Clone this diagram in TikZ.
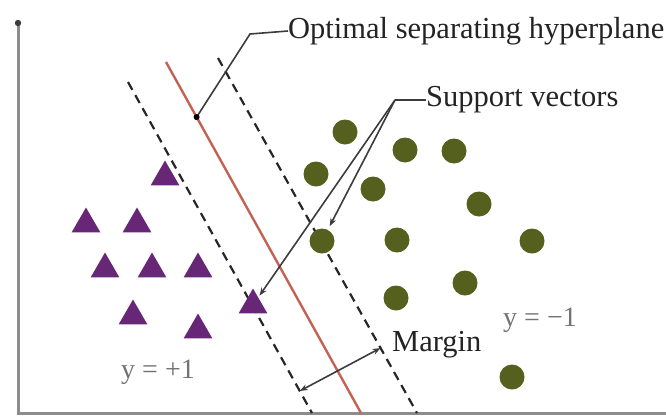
\documentclass[tikz,border=0pt]{standalone}
\usepackage{fontspec}
\setmainfont{Liberation Serif}
\usetikzlibrary{arrows.meta,shapes.geometric,calc}
\definecolor{tricol}{RGB}{104,38,118}
\definecolor{dotcol}{RGB}{86,96,30}
\definecolor{hypcol}{RGB}{196,98,84}
\definecolor{axcol}{RGB}{140,140,140}
\definecolor{leadcol}{RGB}{60,60,60}
\definecolor{labcol}{RGB}{35,35,35}
\definecolor{ycol}{RGB}{115,115,115}
\begin{document}
\begin{tikzpicture}[x=1pt,y=-1pt,
  tri/.style={regular polygon,regular polygon sides=3,fill=tricol,minimum size=33pt,inner sep=0pt},
  pt/.style={circle,fill=dotcol,minimum size=25pt,inner sep=0pt},
  margline/.style={draw=black!85,line width=2.2pt,dash pattern=on 9pt off 6pt},
  hypline/.style={draw=hypcol,line width=2.4pt},
  axline/.style={draw=axcol,line width=3pt},
  leader/.style={draw=leadcol,line width=1.6pt},
  lab/.style={text=labcol,font=\fontsize{30.5}{33}\selectfont,inner sep=0pt},
  ylab/.style={text=ycol,font=\fontsize{28}{32}\selectfont,inner sep=0pt},
  tip/.style={-{Stealth[length=8pt,width=6pt]}}
]
\useasboundingbox (0,0) rectangle (666,418);
% axes
\coordinate (ytop) at (18,23);
\coordinate (org) at (18,413);
\coordinate (xend) at (666,413);
\draw[axline] (ytop) -- (org) -- (xend);
\fill[leadcol] (ytop) circle (3.2pt);
% hyperplane and margin lines
\coordinate (L1) at (128,82);  \coordinate (L2) at (312,413);
\coordinate (H1) at (166,62);  \coordinate (H2) at (361,413);
\coordinate (R1) at (218,58);  \coordinate (R2) at (417,413);
\draw[margline] (L1) -- (L2);
\draw[hypline] (H1) -- (H2);
\draw[margline] (R1) -- (R2);
% triangles (y=+1)
\node[tri] (t1) at (165,177) {};
\node[tri] (t2) at (86,224) {};
\node[tri] (t3) at (137,224) {};
\node[tri] (t4) at (105,269) {};
\node[tri] (t5) at (152,269) {};
\node[tri] (t6) at (198,269) {};
\node[tri] (t7) at (133,316) {};
\node[tri] (t8) at (198,330) {};
\node[tri] (sv1) at (253,305) {};
% circles (y=-1)
\node[pt] (c1) at (345,132) {};
\node[pt] (c2) at (405,150) {};
\node[pt] (c3) at (454,151) {};
\node[pt] (c4) at (316,174) {};
\node[pt] (c5) at (373,189) {};
\node[pt] (c6) at (479,204) {};
\node[pt] (sv2) at (322,241) {};
\node[pt] (c8) at (397,240) {};
\node[pt] (c9) at (532,241) {};
\node[pt] (c10) at (465,283) {};
\node[pt] (c11) at (396,298) {};
\node[pt] (c12) at (512,377) {};
% labels
\node[lab,anchor=west] (opt) at (288,31) {Optimal separating hyperplane};
\node[lab,anchor=west] (sup) at (426,100) {Support vectors};
\node[lab,anchor=west] (mar) at (392,345) {Margin};
\node[ylab] (yneg) at (540,320) {y = −1};
\node[ylab] (ypos) at (158,372) {y = +1};
% optimal hyperplane leader
\coordinate (ok) at (250,34);
\coordinate (ohit) at ($(H1)!0.157!(H2)$);
\draw[leader] (opt.west) -- (ok) -- (ohit);
\fill[black] (ohit) circle (3pt);
% support vector leaders
\coordinate (sk) at (395,100);
\draw[leader] (sup.west) -- (sk);
\draw[leader,tip,shorten >=2pt] (sk) -- (sv1);
\draw[leader,tip,shorten >=4pt] (sk) -- (sv2);
% margin arrow
\coordinate (ml) at ($(L1)!0.9335!(L2)$);
\coordinate (mr) at ($(R1)!0.817!(R2)$);
\draw[leader,{Stealth[length=8pt,width=6pt]}-{Stealth[length=8pt,width=6pt]}] (ml) -- (mr);
\end{tikzpicture}
\end{document}
